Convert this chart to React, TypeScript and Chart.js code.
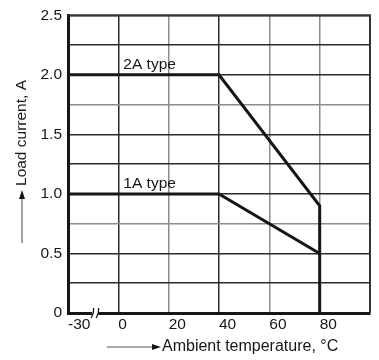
import React, { useEffect, useRef } from "react";
import { Chart, registerables } from "chart.js";

Chart.register(...registerables);

// Derating curves: ambient temperature (°C) vs. permissible load current (A)
const type2ATemps = [-20, 40, 80, 80];
const type2ACurrent = [2.0, 2.0, 0.9, 0];
const type1ATemps = [-20, 40, 80];
const type1ACurrent = [1.0, 1.0, 0.5];

const seriesNames = ["2A type", "1A type"];
// The left edge of the axis is a broken scale that stands for -30 °C
const xTickLabels: Record<number, string> = { [-20]: "-30", 0: "0", 20: "20", 40: "40", 60: "60", 80: "80", 100: "" };
const yTickLabels: Record<string, string> = { "0": "0", "0.5": "0.5", "1": "1.0", "1.5": "1.5", "2": "2.0", "2.5": "2.5" };

const xAxisTitle = "Ambient temperature, °C";
const yAxisTitle = "Load current, A";

const FONT = '"Liberation Sans", Arial, Helvetica, sans-serif';
const INK = "#161616";
const DARK_GRID = "#2a2a2a";
const LIGHT_GRID = "#8c8c8c";
const lightXGrid = new Set([20, 60, 80]);
const lightYGrid = new Set([0.75, 1.75]);

const annotations = {
  id: "annotations",
  afterDraw(chart: any) {
    const { ctx, chartArea: a, scales } = chart;
    const x = scales.x;
    const y = scales.y;
    ctx.save();

    // top and right frame lines
    ctx.strokeStyle = "#333";
    ctx.lineWidth = 2;
    ctx.beginPath();
    ctx.moveTo(a.left, a.top);
    ctx.lineTo(a.right, a.top);
    ctx.lineTo(a.right, a.bottom);
    ctx.stroke();

    // axis break marks on the temperature axis
    const bx = (a.left + x.getPixelForValue(0)) / 2 + 2;
    ctx.fillStyle = "#fff";
    ctx.fillRect(bx - 3, a.bottom - 3, 6, 6);
    ctx.strokeStyle = INK;
    ctx.lineWidth = 1.3;
    for (const dx of [-2.5, 2.5]) {
      ctx.beginPath();
      ctx.moveTo(bx + dx - 1.5, a.bottom + 5);
      ctx.quadraticCurveTo(bx + dx + 1.5, a.bottom, bx + dx + 1, a.bottom - 5);
      ctx.stroke();
    }

    // series labels
    ctx.fillStyle = INK;
    ctx.font = `15.5px ${FONT}`;
    ctx.textAlign = "left";
    ctx.textBaseline = "alphabetic";
    const lx = x.getPixelForValue(0) + 5;
    ctx.fillText(seriesNames[0], lx, y.getPixelForValue(type2ACurrent[0]) - 6);
    ctx.fillText(seriesNames[1], lx, y.getPixelForValue(type1ACurrent[0]) - 6);

    // x axis title with arrow
    const ty = 347;
    ctx.strokeStyle = "#555";
    ctx.lineWidth = 1.2;
    ctx.beginPath();
    ctx.moveTo(107, ty);
    ctx.lineTo(154, ty);
    ctx.stroke();
    ctx.fillStyle = INK;
    ctx.beginPath();
    ctx.moveTo(161, ty);
    ctx.lineTo(152, ty - 3);
    ctx.lineTo(152, ty + 3);
    ctx.closePath();
    ctx.fill();
    ctx.font = `16px ${FONT}`;
    ctx.textBaseline = "middle";
    ctx.fillText(xAxisTitle, 162, ty);

    // y axis title with arrow
    const tx = 22;
    ctx.strokeStyle = "#666";
    ctx.beginPath();
    ctx.moveTo(tx, 243);
    ctx.lineTo(tx, 198);
    ctx.stroke();
    ctx.beginPath();
    ctx.moveTo(tx, 190);
    ctx.lineTo(tx - 3, 199);
    ctx.lineTo(tx + 3, 199);
    ctx.closePath();
    ctx.fill();
    ctx.translate(tx, 133);
    ctx.rotate(-Math.PI / 2);
    ctx.textAlign = "center";
    ctx.font = `15.5px ${FONT}`;
    ctx.fillText(yAxisTitle, 0, 0);

    ctx.restore();
  },
};

export default function App() {
  const canvasRef = useRef<HTMLCanvasElement | null>(null);

  useEffect(() => {
    if (!canvasRef.current) return;
    const toPoints = (xs: number[], ys: number[]) => xs.map((v, i) => ({ x: v, y: ys[i] }));
    const lineStyle = {
      borderColor: INK,
      borderWidth: 3,
      pointRadius: 0,
      tension: 0,
      fill: false,
      clip: false as any,
      borderJoinStyle: "miter" as const,
    };
    const chart = new Chart(canvasRef.current, {
      type: "line",
      data: {
        datasets: [
          { label: seriesNames[0], data: toPoints(type2ATemps, type2ACurrent), ...lineStyle },
          { label: seriesNames[1], data: toPoints(type1ATemps, type1ACurrent), ...lineStyle },
        ],
      },
      options: {
        animation: false,
        responsive: true,
        maintainAspectRatio: false,
        layout: { padding: { top: 12, right: 9, left: 0, bottom: 0 } },
        plugins: { legend: { display: false }, tooltip: { enabled: false } },
        scales: {
          x: {
            type: "linear",
            min: -20,
            max: 100,
            afterFit: (s: any) => {
              s.height = 47;
            },
            ticks: {
              stepSize: 20,
              align: "start",
              padding: 2,
              color: INK,
              font: { family: FONT, size: 15.5 },
              callback: (v: any) => xTickLabels[Number(v)] ?? "",
            },
            grid: {
              drawTicks: false,
              lineWidth: 1.5,
              color: (c: any) => (lightXGrid.has(c.tick?.value) ? LIGHT_GRID : DARK_GRID),
            },
            border: { display: true, color: INK, width: 3 },
          },
          y: {
            type: "linear",
            min: 0,
            max: 2.5,
            afterFit: (s: any) => {
              s.width = 68;
            },
            ticks: {
              stepSize: 0.25,
              padding: 6,
              color: INK,
              font: { family: FONT, size: 15.5 },
              callback: (v: any) => yTickLabels[String(Number(v))] ?? "",
            },
            grid: {
              drawTicks: false,
              lineWidth: 1.5,
              color: (c: any) => (lightYGrid.has(c.tick?.value) ? LIGHT_GRID : DARK_GRID),
            },
            border: { display: true, color: INK, width: 3 },
          },
        },
      },
      plugins: [annotations],
    });
    return () => chart.destroy();
  }, []);

  return (
    <div style={{ position: "absolute", left: 0, top: 0, width: 379, height: 360, background: "#fff" }}>
      <canvas ref={canvasRef} />
    </div>
  );
}
